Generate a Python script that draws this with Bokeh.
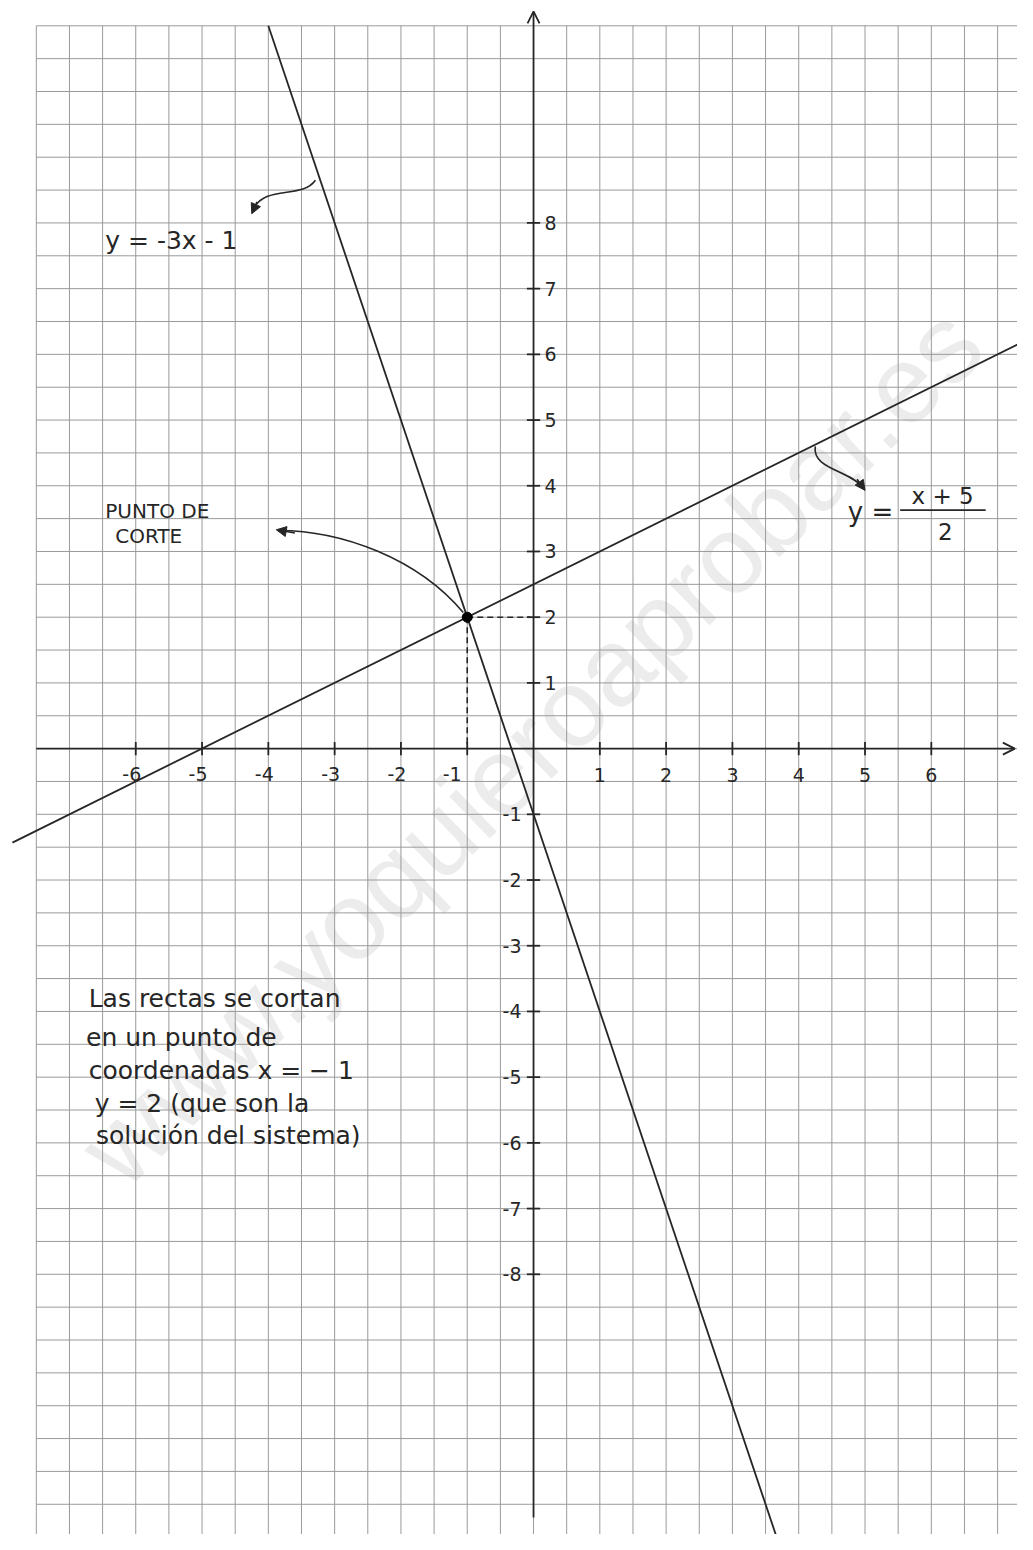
import numpy as np
from bokeh.plotting import figure
from bokeh.models import Arrow, OpenHead, NormalHead, Range1d
from bokeh.core.properties import value
from bokeh.embed import file_html
from bokeh.resources import INLINE

# ---- data ----
x_ticks = [-6, -5, -4, -3, -2, -1, 1, 2, 3, 4, 5, 6]
x_tick_labels = ["-6", "-5", "-4", "-3", "-2", "-1", "1", "2", "3", "4", "5", "6"]
y_ticks_pos = [1, 2, 3, 4, 5, 6, 7, 8]
y_labels_pos = ["1", "2", "3", "4", "5", "6", "7", "8"]
y_ticks_neg = [-1, -2, -3, -4, -5, -6, -7, -8]
y_labels_neg = ["-1", "-2", "-3", "-4", "-5", "-6", "-7", "-8"]

# y = -3x - 1  (end points as drawn)
line1_x = [-4.0, 3.68]
line1_y = [11.0, -12.04]
# y = (x + 5) / 2  (end points as drawn)
line2_x = [-7.86, 7.5]
line2_y = [-1.43, 6.25]
# intersection point
cut_x = [-1.0]
cut_y = [2.0]

text_block = [
    "Las rectas se cortan",
    "en un punto de",
    "coordenadas  x = \u2212 1",
    "y = 2  (que son la",
    "soluci\u00f3n del sistema)",
]

INK = "#262626"
GRID = "#9a9a9a"
FONT = value("DejaVu Sans")

p = figure(width=1017, height=1534,
           x_range=Range1d(-8.04, 7.30), y_range=Range1d(-11.96, 11.385),
           x_axis_type=None, y_axis_type=None,
           output_backend="svg", toolbar_location=None, min_border=0)
p.outline_line_color = None
p.background_fill_color = "white"
p.border_fill_color = "white"

# watermark
p.text(x=[-0.05], y=[0.05], text=["www.yoquieroaprobar.es"], angle=0.77,
       text_font=value("Liberation Sans"), text_font_size="110px",
       text_color="#ececec", text_align="center", text_baseline="middle")

# squared paper grid (half-unit cells)
gx = np.arange(-7.5, 7.01, 0.5)
gy = np.arange(-12.0, 11.01, 0.5)
p.segment(x0=gx, y0=[-12.0] * len(gx), x1=gx, y1=[11.0] * len(gx),
          line_color=GRID, line_width=1)
p.segment(x0=[-7.5] * len(gy), y0=gy, x1=[7.30] * len(gy), y1=gy,
          line_color=GRID, line_width=1)

# axes with arrow heads
p.add_layout(Arrow(end=OpenHead(size=12, line_width=1.8, line_color=INK),
                   x_start=-7.5, y_start=0, x_end=7.26, y_end=0,
                   line_width=1.8, line_color=INK))
p.add_layout(Arrow(end=OpenHead(size=12, line_width=1.8, line_color=INK),
                   x_start=0, y_start=-11.7, x_end=0, y_end=11.22,
                   line_width=1.8, line_color=INK))

# tick marks
p.segment(x0=x_ticks, y0=[-0.1] * len(x_ticks), x1=x_ticks, y1=[0.1] * len(x_ticks),
          line_color=INK, line_width=1.8)
yt = y_ticks_pos + y_ticks_neg
p.segment(x0=[-0.1] * len(yt), y0=yt, x1=[0.1] * len(yt), y1=yt,
          line_color=INK, line_width=1.8)

# tick labels
neg_x = [t for t in x_ticks if t < 0 and t != -1]
neg_lab = [l for t, l in zip(x_ticks, x_tick_labels) if t < 0 and t != -1]
pos_x = [t for t in x_ticks if t > 0]
pos_lab = [l for t, l in zip(x_ticks, x_tick_labels) if t > 0]
LBL = dict(text_font=FONT, text_font_size="19px", text_color=INK, text_baseline="middle")
p.text(x=neg_x, y=[0] * len(neg_x), text=neg_lab, x_offset=-4, y_offset=25,
       text_align="center", **LBL)
p.text(x=[-1], y=[0], text=[x_tick_labels[x_ticks.index(-1)]], x_offset=-15, y_offset=25,
       text_align="center", **LBL)
p.text(x=pos_x, y=[0] * len(pos_x), text=pos_lab, y_offset=26,
       text_align="center", **LBL)
p.text(x=[0] * len(y_ticks_pos), y=y_ticks_pos, text=y_labels_pos, x_offset=11,
       text_align="left", **LBL)
p.text(x=[0] * len(y_ticks_neg), y=y_ticks_neg, text=y_labels_neg, x_offset=-12,
       text_align="right", **LBL)

# the two lines
p.line(line1_x, line1_y, line_color=INK, line_width=1.8)
p.line(line2_x, line2_y, line_color=INK, line_width=1.8)

# dashed projections of the cut point
p.segment(x0=cut_x, y0=cut_y, x1=[-0.05], y1=cut_y, line_color=INK,
          line_width=1.6, line_dash="6 4")
p.segment(x0=cut_x, y0=cut_y, x1=cut_x, y1=[0.05], line_color=INK,
          line_width=1.6, line_dash="6 4")
p.scatter(cut_x, cut_y, size=10, color="black")

# label of y = -3x - 1 with curved arrow
p.text(x=[-6.46], y=[7.73], text=["y = -3x - 1"], text_font=FONT,
       text_font_size="25px", text_color=INK, text_align="left", text_baseline="middle")
p.bezier(x0=[-3.29], y0=[8.65], x1=[-4.24], y1=[8.19],
         cx0=[-3.5], cy0=[8.35], cx1=[-4.05], cy1=[8.6], line_color=INK, line_width=1.6)
p.add_layout(Arrow(end=NormalHead(size=10, fill_color=INK, line_color=INK),
                   x_start=-4.17, y_start=8.32, x_end=-4.25, y_end=8.14,
                   line_width=1.6, line_color=INK))

# PUNTO DE CORTE label
p.text(x=[-6.46, -6.31], y=[3.62, 3.24], text=["PUNTO DE", "CORTE"], text_font=FONT,
       text_font_size="20px", text_color=INK, text_align="left", text_baseline="middle")
p.bezier(x0=[-1.06], y0=[2.07], x1=[-3.85], y1=[3.32],
         cx0=[-1.75], cy0=[2.9], cx1=[-2.9], cy1=[3.32], line_color=INK, line_width=1.6)
p.add_layout(Arrow(end=NormalHead(size=10, fill_color=INK, line_color=INK),
                   x_start=-3.6, y_start=3.28, x_end=-3.88, y_end=3.33,
                   line_width=1.6, line_color=INK))

# label of y = (x + 5)/2 with curved arrow
p.text(x=[4.74], y=[3.6], text=["y ="], text_font=FONT, text_font_size="26px",
       text_color=INK, text_align="left", text_baseline="middle")
p.text(x=[6.17], y=[3.84], text=["x + 5"], text_font=FONT, text_font_size="23px",
       text_color=INK, text_align="center", text_baseline="middle")
p.segment(x0=[5.53], y0=[3.63], x1=[6.82], y1=[3.63], line_color=INK, line_width=1.6)
p.text(x=[6.21], y=[3.31], text=["2"], text_font=FONT, text_font_size="23px",
       text_color=INK, text_align="center", text_baseline="middle")
p.bezier(x0=[4.25], y0=[4.6], x1=[4.99], y1=[3.96],
         cx0=[4.2], cy0=[4.25], cx1=[4.75], cy1=[4.25], line_color=INK, line_width=1.6)
p.add_layout(Arrow(end=NormalHead(size=10, fill_color=INK, line_color=INK),
                   x_start=4.88, y_start=4.1, x_end=5.0, y_end=3.93,
                   line_width=1.6, line_color=INK))

# conclusion text
p.text(x=[-6.71, -6.75, -6.71, -6.62, -6.6], y=[-3.81, -4.4, -4.9, -5.4, -5.89],
       text=text_block, text_font=FONT, text_font_size="25px", text_color=INK,
       text_align="left", text_baseline="middle")

open("out.html", "w").write(file_html(p, INLINE))
